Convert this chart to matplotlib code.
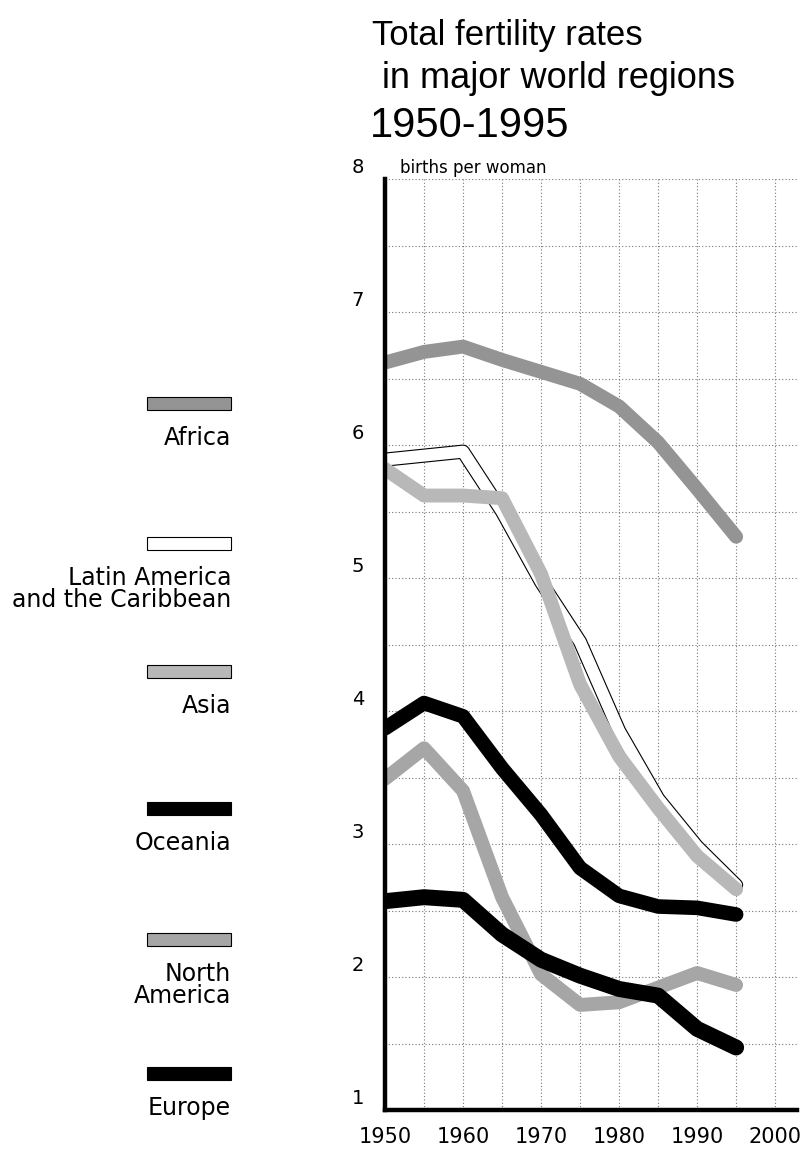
import numpy as np
import matplotlib.pyplot as plt
from matplotlib.patches import Rectangle

plt.rcParams['font.family'] = ['DejaVu Sans']

# data, births per woman
years = [1950, 1955, 1960, 1965, 1970, 1975, 1980, 1985, 1990, 1995]
africa = [6.62, 6.70, 6.74, 6.64, 6.55, 6.46, 6.29, 6.02, 5.67, 5.31]
latin_america = [5.89, 5.92, 5.95, 5.50, 4.97, 4.52, 3.85, 3.34, 2.98, 2.69]
asia = [5.82, 5.62, 5.62, 5.60, 5.03, 4.20, 3.66, 3.27, 2.91, 2.66]
oceania = [3.87, 4.06, 3.96, 3.57, 3.22, 2.82, 2.61, 2.53, 2.52, 2.47]
north_america = [3.49, 3.72, 3.40, 2.60, 2.02, 1.79, 1.81, 1.92, 2.03, 1.94]
europe = [2.57, 2.60, 2.58, 2.32, 2.13, 2.01, 1.91, 1.86, 1.61, 1.47]

x_ticks = [1950, 1960, 1970, 1980, 1990, 2000]
y_ticks = [1, 2, 3, 4, 5, 6, 7, 8]

W, H = 807, 1152
fig = plt.figure(figsize=(W / 100, H / 100), dpi=100)
fig.patch.set_facecolor('white')

# main chart, placed by pixel positions of the reference
left, right, top, bottom = 385, 797, 179, 1110
ax = fig.add_axes([left / W, 1 - bottom / H, (right - left) / W, (bottom - top) / H])
ax.set_xlim(1950, 2002.8)
ax.set_ylim(1, 8)

# dotted background grid
for gx in np.arange(1955, 2001, 5):
    ax.axvline(gx, color='#777777', lw=0.8, ls=(0, (1, 2)), zorder=0)
for gy in np.arange(1.5, 8.01, 0.5):
    ax.axhline(gy, color='#777777', lw=0.8, ls=(0, (1, 2)), zorder=0)

kw = dict(solid_capstyle='round', solid_joinstyle='round')
ax.plot(years, africa, color='#949494', lw=10, zorder=2, **kw)
ax.plot(years, latin_america, color='black', lw=10.2, zorder=3, **kw)
ax.plot(years, latin_america, color='white', lw=8.6, zorder=3.1, **kw)
ax.plot(years, asia, color='#b8b8b8', lw=10, zorder=4, **kw)
ax.plot(years, oceania, color='black', lw=10.5, zorder=5, **kw)
ax.plot(years, north_america, color='#a6a6a6', lw=10, zorder=6, **kw)
ax.plot(years, europe, color='black', lw=11.5, zorder=7, **kw)

for s in ['top', 'right']:
    ax.spines[s].set_visible(False)
ax.spines['left'].set_linewidth(3.2)
ax.spines['bottom'].set_linewidth(3.2)
ax.spines['left'].set_zorder(10)
ax.spines['bottom'].set_zorder(10)

ax.set_xticks(x_ticks)
ax.set_xticklabels([str(t) for t in x_ticks], fontsize=15)
ax.tick_params(axis='x', length=0, pad=12)
ax.set_yticks([])

for v in y_ticks:
    ax.annotate(str(v), xy=(0, v), xycoords=('axes fraction', 'data'),
                xytext=(-19.5, 8.5), textcoords='offset points',
                ha='center', va='center', fontsize=14)
ax.annotate('births per woman', xy=(0, 8), xycoords=('axes fraction', 'data'),
            xytext=(11, 4.3), textcoords='offset points',
            ha='left', va='baseline', fontsize=12)

# title and legend on an overlay in pixel units
ov = fig.add_axes([0, 0, 1, 1], zorder=-1)
ov.set_xlim(0, W)
ov.set_ylim(H, 0)
ov.axis('off')

title_font = ['Liberation Sans', 'DejaVu Sans']
ov.text(372, 45, 'Total fertility rates', fontsize=25, ha='left', va='baseline',
        family=title_font)
ov.text(372, 88, ' in major world regions', fontsize=26, ha='left', va='baseline',
        family=title_font)
ov.text(370, 137, '1950-1995', fontsize=30, ha='left', va='baseline',
        family=title_font)

legend_names = ['Africa', 'Latin America\nand the Caribbean', 'Asia',
                'Oceania', 'North\nAmerica', 'Europe']
legend_colors = ['#949494', 'white', '#b8b8b8', 'black', '#a6a6a6', 'black']
swatch_y = [403, 543, 671, 808, 939, 1073]
sw_left, sw_right, sw_h = 147, 231, 13
for name, col, sy in zip(legend_names, legend_colors, swatch_y):
    ov.add_patch(Rectangle((sw_left, sy - sw_h / 2), sw_right - sw_left, sw_h,
                           facecolor=col, edgecolor='black', lw=0.8))
    ov.text(sw_right, sy + 23, name, fontsize=17, ha='right', va='top',
            linespacing=0.92)

fig.savefig('out.png', dpi=100)
